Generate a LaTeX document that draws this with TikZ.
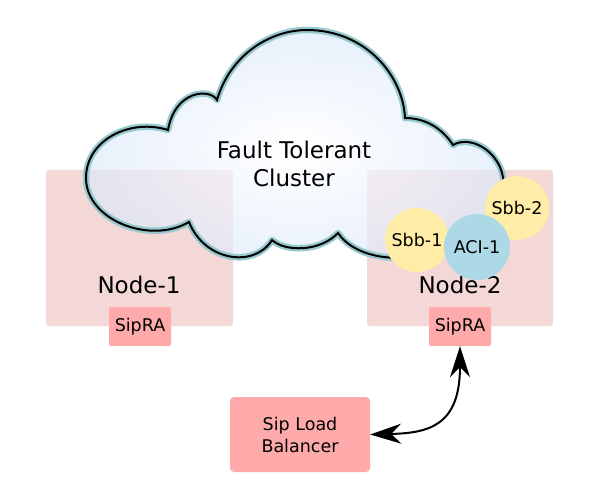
\documentclass[tikz,border=0pt]{standalone}
\usepackage{fontspec}
\setmainfont{DejaVu Sans}
\usetikzlibrary{arrows.meta}
\definecolor{nodebg}{RGB}{244,215,215}
\definecolor{sipra}{RGB}{255,170,170}
\definecolor{sbbyellow}{RGB}{255,236,166}
\definecolor{acublue}{RGB}{173,216,230}
\definecolor{halo}{RGB}{150,200,206}
\definecolor{cloudedge}{RGB}{222,234,250}
\tikzset{
  nodebox/.style={fill=nodebg, draw=none, rounded corners=3pt, inner sep=0pt},
  sipbox/.style={fill=sipra, draw=none, rounded corners=2pt, inner sep=0pt,
    minimum width=62pt, minimum height=39pt, font=\fontsize{17.5}{20}\selectfont},
  bigtext/.style={inner sep=0pt, font=\fontsize{23}{28.5}\selectfont},
  bubble/.style={circle, draw=none, inner sep=0pt, minimum size=64pt,
    font=\fontsize{17.5}{20}\selectfont},
  biarrow/.style={line width=2pt, {Stealth[length=31pt,width=20pt,inset=10pt]}-{Stealth[length=31pt,width=20pt,inset=10pt]}},
}
\begin{document}
\begin{tikzpicture}[x=1pt,y=-1pt]
\useasboundingbox (0,0) rectangle (600,500);
% node boxes
\node[nodebox, minimum width=187pt, minimum height=156pt] (n1) at (139.5,248) {};
\node[nodebox, minimum width=186pt, minimum height=156pt] (n2) at (460,248) {};
% cloud
\def\cloudpath{(168,130) .. controls (130,118) and (86,140) .. (86,178)
  .. controls (86,220) and (150,245) .. (189,222)
  .. controls (205,262) and (255,268) .. (272,240)
  .. controls (285,252) and (320,252) .. (338,233)
  .. controls (355,258) and (400,265) .. (440,250)
  .. controls (490,232) and (508,200) .. (503,177)
  .. controls (498,150) and (470,135) .. (453,145)
  .. controls (442,128) and (425,118) .. (405,118)
  .. controls (403,75) and (365,30) .. (307,30)
  .. controls (270,30) and (230,55) .. (217,100)
  .. controls (210,88) and (175,90) .. (168,130) -- cycle}
\shade[inner color=white, outer color=cloudedge, fill opacity=0.7] \cloudpath;
\draw[halo, line width=6.5pt, line join=round] \cloudpath;
\draw[black, line width=2pt, line join=miter] \cloudpath;
\node[bigtext, align=center] (ftc) at (294,164) {Fault Tolerant\\Cluster};
% node labels
\node[bigtext, anchor=base] (l1) at (139,293) {Node-1};
\node[bigtext, anchor=base] (l2) at (460,293) {Node-2};
% bubbles
\node[bubble, fill=sbbyellow] (sbb1) at (417,240) {Sbb-1};
\node[bubble, fill=sbbyellow] (sbb2) at (517,208) {Sbb-2};
\node[bubble, fill=acublue, minimum size=66pt] (aci) at (477,247) {ACI-1};
% SipRA
\node[sipbox] (s1) at (140,326.5) {SipRA};
\node[sipbox] (s2) at (460,326.5) {SipRA};
% load balancer
\node[fill=sipra, draw=none, rounded corners=4pt, inner sep=0pt,
  minimum width=140pt, minimum height=75pt, align=center,
  font=\fontsize{17.5}{22}\selectfont] (lb) at (300,434.5) {Sip Load\\Balancer};
% connector
\draw[biarrow] (s2.south) .. controls (460,425) and (430,433) .. (lb.east);
\end{tikzpicture}
\end{document}
